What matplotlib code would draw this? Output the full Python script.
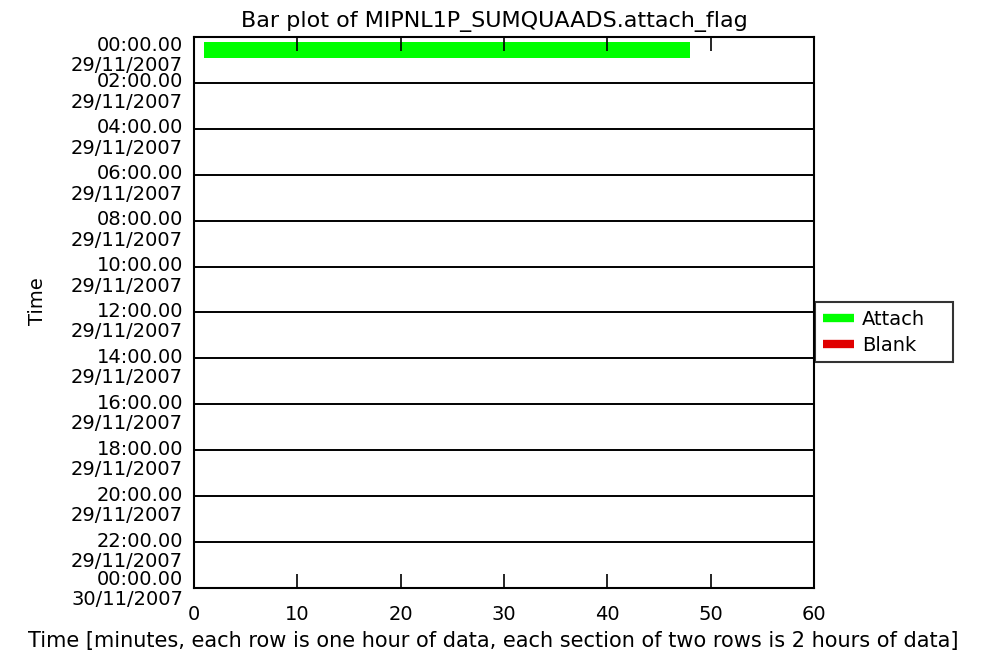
import matplotlib
matplotlib.use('Agg')
import matplotlib.pyplot as plt
from matplotlib.lines import Line2D
import matplotlib.transforms as mtransforms

# ---- data ----
minute_ticks = [0, 10, 20, 30, 40, 50, 60]
section_hours = [0, 2, 4, 6, 8, 10, 12, 14, 16, 18, 20, 22, 24]
section_times = ['00:00.00', '02:00.00', '04:00.00', '06:00.00', '08:00.00',
                 '10:00.00', '12:00.00', '14:00.00', '16:00.00', '18:00.00',
                 '20:00.00', '22:00.00', '00:00.00']
section_dates = ['29/11/2007'] * 12 + ['30/11/2007']

attach_rows = [0]        # hour row index
attach_start = [1]       # minutes
attach_end = [48]        # minutes
blank_rows = []
blank_start = []
blank_end = []

title = 'Bar plot of MIPNL1P_SUMQUAADS.attach_flag'
xlabel = 'Time [minutes, each row is one hour of data, each section of two rows is 2 hours of data]'
ylabel = 'Time'

# ---- figure ----
plt.rcParams['font.family'] = ['DejaVu Sans']
fig = plt.figure(figsize=(9.84, 6.63), dpi=100)
ax = fig.add_axes([194/984, 75/663, 620/984, 551/663])

green = '#00FF00'
red = '#E00000'

ax.barh([r + 0.55 for r in attach_rows],
        [e - s for s, e in zip(attach_start, attach_end)],
        left=attach_start, height=0.7, color=green, edgecolor='none')
if blank_rows:
    ax.barh([r + 0.55 for r in blank_rows],
            [e - s for s, e in zip(blank_start, blank_end)],
            left=blank_start, height=0.7, color=red, edgecolor='none')

ax.set_xlim(0, 60)
ax.set_ylim(24, 0)

ax.set_xticks(minute_ticks)
ax.set_xticklabels([str(m) for m in minute_ticks], fontsize=14)
ax.tick_params(axis='x', direction='in', length=10, width=1.2, top=True,
               labeltop=False, pad=12)

ax.set_yticks(section_hours)
ax.set_yticklabels([t + '\n' + d for t, d in zip(section_times, section_dates)],
                   fontsize=14, linespacing=1.1, va='top')
ax.tick_params(axis='y', length=0, pad=8)
ax.yaxis.grid(True, color='black', linewidth=1.4)
ax.set_axisbelow(False)

for sp in ax.spines.values():
    sp.set_linewidth(1.5)
    sp.set_color('black')

# shift y labels so that the first line sits on the section line
labels = ax.get_yticklabels()
n = len(labels)
for i, lab in enumerate(labels):
    if i == 0:
        dy = 1 / 100
    elif i == n - 1:
        dy = 18 / 100
    else:
        dy = 10.5 / 100
    off = mtransforms.ScaledTranslation(0, dy, fig.dpi_scale_trans)
    lab.set_transform(lab.get_transform() + off)

ax.set_title(title, fontsize=16, pad=7)
ax.title.set_x(0.485)
ax.set_xlabel(xlabel, fontsize=15, labelpad=4)
ax.xaxis.set_label_coords(0.482, -0.078)
ax.set_ylabel(ylabel, fontsize=14)
ax.yaxis.set_label_coords(-0.237, 0.52)

handles = [Line2D([0], [0], color=green, lw=6, solid_capstyle='butt'),
           Line2D([0], [0], color=red, lw=6, solid_capstyle='butt')]
leg = fig.legend(handles, ['Attach', 'Blank'], loc='upper left',
                 bbox_to_anchor=(815/984, 1 - 362/663, 138/984, 60/663),
                 mode='expand', fontsize=14,
                 frameon=True, fancybox=False, handlelength=1.6,
                 handletextpad=0.4, borderpad=0.4, labelspacing=0.35,
                 borderaxespad=0)
leg.get_frame().set_edgecolor('black')
leg.get_frame().set_linewidth(1.5)

fig.savefig('out.png', dpi=100)
